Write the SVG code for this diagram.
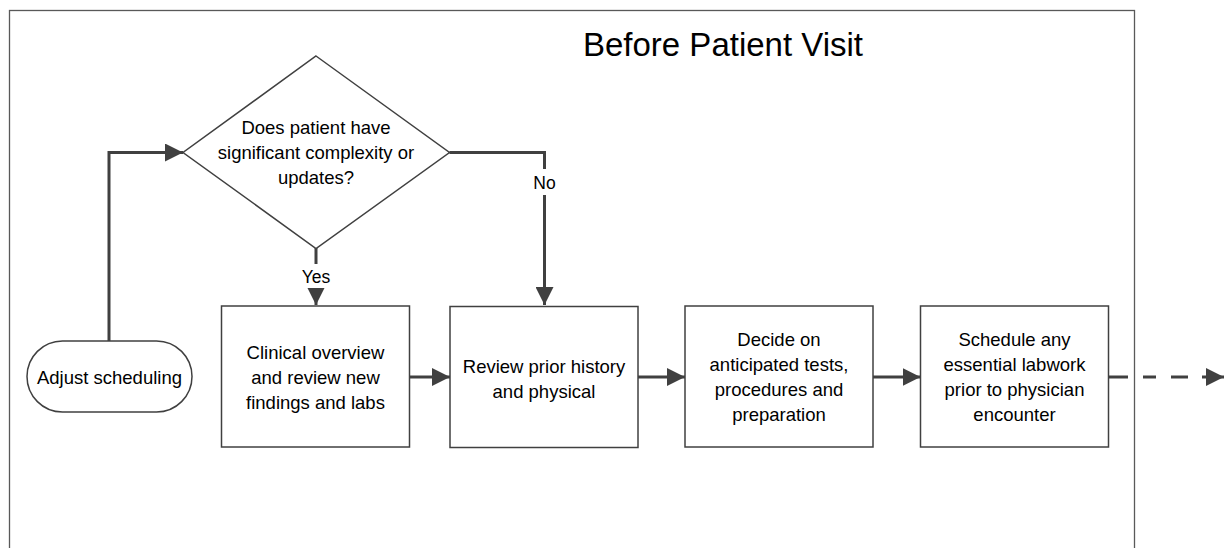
<svg xmlns="http://www.w3.org/2000/svg" width="1225" height="548" viewBox="0 0 1225 548">
<style>
.t{font-family:"Liberation Sans",Arial,sans-serif;font-size:18.5px;fill:#000;text-anchor:middle}
.shape{fill:#fff;stroke:#404040;stroke-width:1.5}
.conn{fill:none;stroke:#404040;stroke-width:3}
.lbl{font-family:"Liberation Sans",Arial,sans-serif;font-size:17.5px;fill:#000;text-anchor:middle}
</style>
<defs>
<marker id="arr" markerUnits="userSpaceOnUse" markerWidth="18" markerHeight="18" refX="18" refY="9" orient="auto" viewBox="0 0 18 18">
<path d="M0,0 L18,9 L0,18 z" fill="#404040"/>
</marker>
</defs>
<rect width="1225" height="548" fill="#fff"/>
<g id="frame">
<rect x="9.5" y="10.5" width="1125" height="600" fill="none" stroke="#595959" stroke-width="1.3"/>
<text x="723" y="56" font-family="Liberation Sans,Arial,sans-serif" font-size="33" text-anchor="middle" fill="#000">Before Patient Visit</text>
</g>
<g id="connectors">
<path class="conn" d="M109,341 V152.5 H183" marker-end="url(#arr)"/>
<path class="conn" d="M449.5,152.5 H544.5 V305" marker-end="url(#arr)"/>
<path class="conn" d="M316,248 V305" marker-end="url(#arr)"/>
<path class="conn" d="M409,377 H450" marker-end="url(#arr)"/>
<path class="conn" d="M638,377 H685" marker-end="url(#arr)"/>
<path class="conn" d="M873,377 H920.5" marker-end="url(#arr)"/>
<path class="conn" d="M1109,377 H1224" stroke-dasharray="19 15 13 15 17 14 60" marker-end="url(#arr)"/>
<rect x="530" y="169" width="29" height="26" fill="#fff"/>
<text class="lbl" x="544.5" y="189">No</text>
<rect x="300" y="264" width="32" height="24" fill="#fff"/>
<text class="lbl" x="316" y="283">Yes</text>
</g>
<g id="decision">
<polygon class="shape" points="316,56 449.5,152.5 316,248.5 183,152.5"/>
<text class="t" x="316" y="134">Does patient have</text>
<text class="t" x="316" y="159">significant complexity or</text>
<text class="t" x="316" y="184">updates?</text>
</g>
<g id="adjust">
<rect class="shape" x="27" y="341" width="165" height="71" rx="35.5" ry="35.5"/>
<text class="t" x="109.5" y="384">Adjust scheduling</text>
</g>
<g id="clinical">
<rect class="shape" x="221.5" y="306" width="188" height="141"/>
<text class="t" x="315.5" y="359">Clinical overview</text>
<text class="t" x="315.5" y="384">and review new</text>
<text class="t" x="315.5" y="409">findings and labs</text>
</g>
<g id="review">
<rect class="shape" x="450" y="306.5" width="188" height="141"/>
<text class="t" x="544" y="373">Review prior history</text>
<text class="t" x="544" y="398">and physical</text>
</g>
<g id="decide">
<rect class="shape" x="685" y="306" width="188" height="141"/>
<text class="t" x="779" y="346">Decide on</text>
<text class="t" x="779" y="371">anticipated tests,</text>
<text class="t" x="779" y="396">procedures and</text>
<text class="t" x="779" y="421">preparation</text>
</g>
<g id="schedule">
<rect class="shape" x="920.5" y="306" width="188" height="141"/>
<text class="t" x="1014.5" y="346">Schedule any</text>
<text class="t" x="1014.5" y="371">essential labwork</text>
<text class="t" x="1014.5" y="396">prior to physician</text>
<text class="t" x="1014.5" y="421">encounter</text>
</g>
</svg>
